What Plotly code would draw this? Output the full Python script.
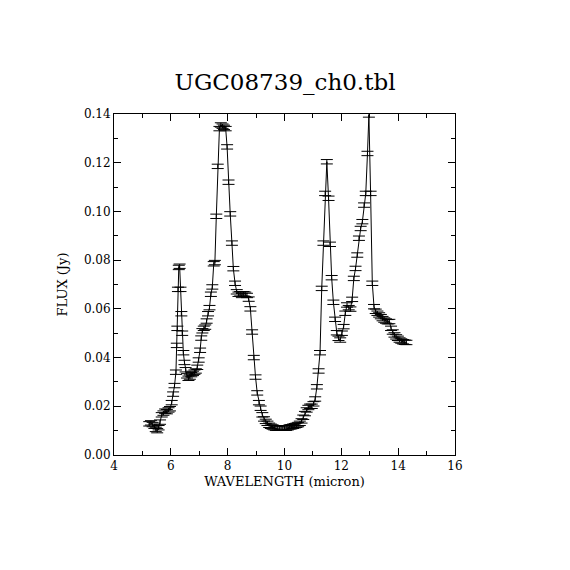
import plotly.graph_objects as go

# spectrum (micron, Jy)
wavelength = [
    5.24, 5.30, 5.36, 5.42, 5.47, 5.52, 5.57, 5.62, 5.68, 5.74,
    5.80, 5.86, 5.92, 5.97, 6.03, 6.08, 6.13, 6.18, 6.21, 6.23,
    6.25, 6.28, 6.31, 6.34, 6.37, 6.40, 6.44, 6.48, 6.52, 6.57,
    6.62, 6.67, 6.72, 6.78, 6.83, 6.88, 6.93, 6.98, 7.03, 7.07,
    7.11, 7.16, 7.21, 7.26, 7.31, 7.36, 7.41, 7.46, 7.51, 7.55,
    7.60, 7.65, 7.71, 7.76, 7.82, 7.87, 7.93, 7.98, 8.03, 8.09,
    8.15, 8.20, 8.26, 8.32, 8.38, 8.44, 8.50, 8.56, 8.62, 8.68,
    8.74, 8.80, 8.86, 8.92, 8.98, 9.04, 9.10, 9.16, 9.22, 9.28,
    9.34, 9.40, 9.46, 9.52, 9.58, 9.64, 9.70, 9.76, 9.82, 9.88,
    9.94, 10.00, 10.06, 10.12, 10.18, 10.24, 10.30, 10.36, 10.42, 10.48,
    10.54, 10.60, 10.66, 10.72, 10.78, 10.84, 10.90, 10.96, 11.02, 11.08,
    11.14, 11.20, 11.25, 11.31, 11.37, 11.43, 11.49, 11.55, 11.60, 11.66,
    11.72, 11.78, 11.84, 11.90, 11.96, 12.02, 12.08, 12.14, 12.20, 12.26,
    12.32, 12.38, 12.44, 12.50, 12.56, 12.62, 12.68, 12.74, 12.80, 12.86,
    12.92, 12.97, 13.03, 13.09, 13.15, 13.21, 13.27, 13.33, 13.39, 13.45,
    13.51, 13.57, 13.63, 13.69, 13.75, 13.81, 13.87, 13.93, 13.99, 14.05,
    14.11, 14.17, 14.23, 14.29,
]
flux = [
    0.0128, 0.0132, 0.0125, 0.0118, 0.0105, 0.0100, 0.0112, 0.0135, 0.0165, 0.0172,
    0.0180, 0.0178, 0.0185, 0.0190, 0.0215, 0.0250, 0.0285, 0.0340, 0.0450, 0.0520,
    0.0680, 0.0770, 0.0775, 0.0680, 0.0580, 0.0500, 0.0420, 0.0380, 0.0350, 0.0325,
    0.0315, 0.0320, 0.0330, 0.0335, 0.0340, 0.0345, 0.0360, 0.0390, 0.0430, 0.0480,
    0.0510, 0.0520, 0.0525, 0.0550, 0.0580, 0.0605, 0.0660, 0.0690, 0.0785, 0.0790,
    0.0980, 0.1185, 0.1340, 0.1355, 0.1350, 0.1345, 0.1340, 0.1265, 0.1120, 0.0990,
    0.0870, 0.0765, 0.0705, 0.0670, 0.0660, 0.0662, 0.0655, 0.0662, 0.0660, 0.0655,
    0.0640, 0.0600, 0.0505, 0.0400, 0.0320, 0.0255, 0.0215, 0.0192, 0.0165, 0.0148,
    0.0138, 0.0130, 0.0122, 0.0118, 0.0115, 0.0112, 0.0110, 0.0110, 0.0110, 0.0112,
    0.0112, 0.0110, 0.0110, 0.0112, 0.0115, 0.0116, 0.0118, 0.0120, 0.0122, 0.0125,
    0.0130, 0.0140, 0.0155, 0.0170, 0.0185, 0.0195, 0.0200, 0.0200, 0.0210, 0.0230,
    0.0280, 0.0345, 0.0420, 0.0684, 0.0870, 0.1074, 0.1204, 0.1054, 0.0865, 0.0728,
    0.0627, 0.0557, 0.0502, 0.0479, 0.0472, 0.0500, 0.0527, 0.0582, 0.0616, 0.0605,
    0.0599, 0.0639, 0.0725, 0.0766, 0.0821, 0.0890, 0.0930, 0.0958, 0.1026, 0.1074,
    0.1238, 0.1396, 0.1074, 0.0705, 0.0609, 0.0590, 0.0582, 0.0575, 0.0568, 0.0560,
    0.0554, 0.0550, 0.0547, 0.0548, 0.0520, 0.0505, 0.0493, 0.0485, 0.0479, 0.0472,
    0.0468, 0.0465, 0.0463, 0.0462,
]
flux_err = [0.0009] * len(flux)

title_text = "UGC08739_ch0.tbl"
x_label = "WAVELENGTH (micron)"
y_label = "FLUX (Jy)"

serif = "DejaVu Serif, Liberation Serif, serif"

fig = go.Figure()
fig.add_trace(
    go.Scatter(
        x=wavelength,
        y=flux,
        mode="lines",
        line=dict(color="black", width=1),
        error_y=dict(
            type="data",
            array=flux_err,
            visible=True,
            color="black",
            thickness=1,
            width=6,
        ),
        showlegend=False,
    )
)

axis_common = dict(
    showgrid=False,
    zeroline=False,
    showline=True,
    linecolor="black",
    linewidth=1,
    mirror="allticks",
    ticks="inside",
    ticklen=7,
    tickwidth=1,
    tickcolor="black",
    tickfont=dict(family=serif, size=12, color="black"),
)

fig.update_xaxes(
    range=[4, 16],
    tick0=4,
    dtick=2,
    minor=dict(ticks="inside", ticklen=4, dtick=1, tickcolor="black"),
    title=dict(text=x_label, font=dict(family=serif, size=13, color="black"), standoff=4),
    **axis_common,
)
fig.update_yaxes(
    range=[0, 0.14],
    tick0=0,
    dtick=0.02,
    tickformat=".2f",
    minor=dict(ticks="inside", ticklen=4, dtick=0.01, tickcolor="black"),
    title=dict(text=y_label, font=dict(family=serif, size=13, color="black"), standoff=13),
    **axis_common,
)

# the page adds 8px body margin, so the margins are shifted to put the box at 114..455
fig.update_layout(
    width=570,
    height=570,
    margin=dict(l=106, r=123, t=106, b=123),
    paper_bgcolor="white",
    plot_bgcolor="white",
    title=dict(
        text=title_text,
        x=(285 - 8) / 570,
        xanchor="center",
        y=1 - (82 - 8) / 570,
        yanchor="middle",
        xref="container",
        font=dict(family=serif, size=23, color="black"),
    ),
)

fig.write_html("out.html")
